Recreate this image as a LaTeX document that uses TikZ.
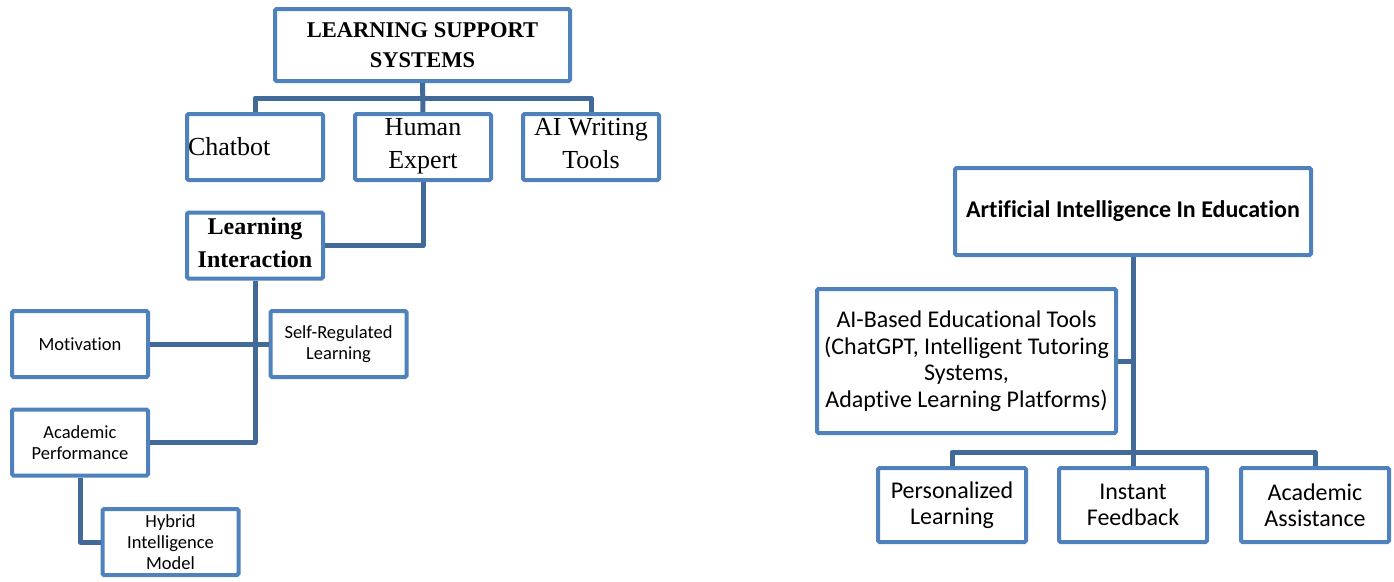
\documentclass[tikz,border=0pt]{standalone}
\usepackage{fontspec}
\setmainfont{Liberation Serif}
\newfontfamily\calibri{Carlito}[Ligatures=NoCommon]
\definecolor{boxBlue}{RGB}{79,129,189}
\definecolor{linkBlue}{RGB}{65,106,153}

\begin{document}
\begin{tikzpicture}
[x=1pt,y=-1pt,
  plainBox/.style={draw=boxBlue,line width=4pt,fill=white,rounded corners=1.5pt,align=center,inner sep=1pt},%
  smallBox/.style={plainBox,minimum width=136pt,minimum height=66pt},%
  wideBox/.style={plainBox,minimum width=148pt,minimum height=74pt},%
  darkLine/.style={draw=linkBlue,line width=5pt,line join=round},%
  timesText/.style={font=\fontsize{26}{33}\selectfont},%
  smallText/.style={font=\calibri\fontsize{18.5}{21}\selectfont},%
  bigText/.style={font=\calibri\fontsize{24}{26.5}\selectfont}]
%% fix the frame
\useasboundingbox (0,0) rectangle (1394,581);
%% left tree: top boxes
\node (lss) at (422.5,45) [plainBox,minimum width=295pt,minimum height=72pt,
  font=\bfseries\fontsize{22.5}{30}\selectfont] {LEARNING SUPPORT\\SYSTEMS};
\node (chat) at (255,147) [smallBox,timesText,text width=134pt,align=left] {Chatbot};
\foreach \nodename/\x/\txt in {hum/423/{Human\\Expert}, ai/591/{AI Writing\\Tools}}
{
  \node (\nodename) at (\x,147) [smallBox,timesText,text depth=8pt] {\txt};
}
\node (li) at (255,245.5) [smallBox,font=\bfseries\fontsize{24}{33}\selectfont,
  text depth=6pt] {Learning\\Interaction};
%% left tree: lower boxes
\foreach \nodename/\x/\y/\txt in {mot/80/344/{Motivation},
  srl/338.5/344/{Self-Regulated\\Learning}, ap/80/442.5/{Academic\\Performance},
  hyb/170.5/542/{Hybrid\\Intelligence\\Model}}
{
  \node (\nodename) at (\x,\y) [smallBox,smallText] {\txt};
}
%% right tree
\node (aie) at (1133,211.5) [plainBox,minimum width=356pt,minimum height=87pt,
  font=\calibri\bfseries\fontsize{24}{26.5}\selectfont] {Artificial Intelligence In Education};
\node (tools) at (966.5,361) [plainBox,minimum width=299pt,minimum height=144pt,bigText]
  {AI-Based Educational Tools\\(ChatGPT, Intelligent Tutoring\\Systems,\\Adaptive Learning Platforms)};
\foreach \nodename/\x/\txt in {pers/952/{Personalized\\Learning},
  inst/1133/{Instant\\Feedback}, acad/1315/{Academic\\Assistance}}
{
  \node (\nodename) at (\x,505) [wideBox,bigText] {\txt};
}
%% draw the edges
\foreach \u/\v in {lss/hum, mot/srl, aie/inst}
{
  \draw[darkLine] (\u) -- (\v);
}
\foreach \u/\v in {hum.south/li.east, li.south/ap.east, ap.south/hyb.west}
{
  \draw[darkLine] (\u) |- (\v);
}
\draw[darkLine] (chat.north) -- ++(0,-14) -| (ai.north);
\draw[darkLine] (pers.north) -- ++(0,-14) -| (acad.north);
\draw[darkLine] (tools.east) -- (tools.east -| aie.south);
\end{tikzpicture}
\end{document}
